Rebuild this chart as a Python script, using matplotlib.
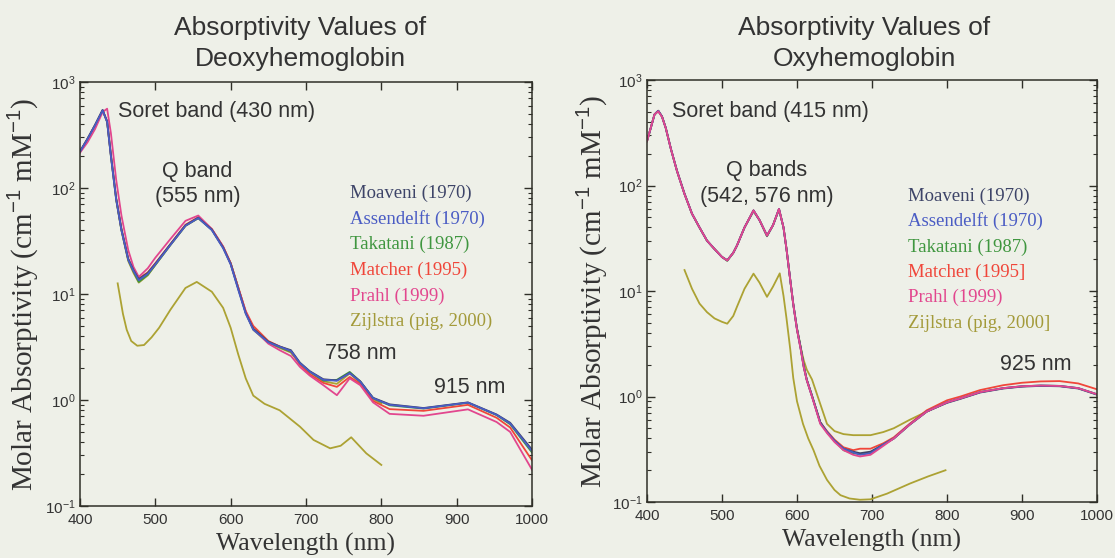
import matplotlib
matplotlib.use("Agg")
import matplotlib.pyplot as plt
from matplotlib.ticker import LogLocator, NullFormatter, MultipleLocator

# ---- deoxyhemoglobin (molar absorptivity, cm^-1 mM^-1) ----
deoxy_wl = [400, 410, 420, 430, 436, 441, 448, 455, 464, 471, 478, 490, 500, 520, 540,
            557, 575, 590, 600, 610, 620, 630, 650, 665, 680, 692, 705, 723, 741, 758,
            772, 789, 811, 856, 915, 953, 971, 1000]
deoxy_moaveni = [222, 292, 395, 545, 425, 205, 80, 41, 21.5, 16.8, 13.8, 15.8, 19.3, 29.5, 44.5,
                 52.5, 40.5, 27.5, 19.2, 11.2, 6.6, 4.7, 3.55, 3.2, 2.95, 2.25, 1.87, 1.57, 1.53, 1.8,
                 1.5, 1.05, 0.91, 0.84, 0.95, 0.73, 0.61, 0.34]
deoxy_assendelft = [220, 290, 390, 540, 420, 200, 78, 40, 21, 16.5, 13.5, 15.5, 19, 29, 44,
                    52, 40, 27, 19, 11, 6.5, 4.6, 3.5, 3.18, 2.9, 2.22, 1.85, 1.55, 1.52, 1.79,
                    1.49, 1.04, 0.90, 0.835, 0.945, 0.725, 0.60, 0.33]
deoxy_takatani = [220, 290, 390, 540, 420, 200, 78, 40, 21, 16.3, 13.0, 15.2, 18.8, 29, 44,
                  52, 40.5, 27.5, 19.5, 11.5, 6.7, 4.7, 3.5, 3.15, 2.85, 2.2, 1.85, 1.52, 1.55, 1.84,
                  1.5, 1.04, 0.89, 0.83, 0.94, 0.72, 0.59, 0.32]
deoxy_matcher = [220, 290, 390, 540, 425, 205, 80, 41, 21.5, 16.8, 14, 16, 19.5, 29.5, 45,
                 53, 41, 28, 19.5, 11.5, 6.9, 5.0, 3.6, 3.2, 2.9, 2.15, 1.75, 1.45, 1.33, 1.65,
                 1.42, 0.98, 0.82, 0.79, 0.90, 0.68, 0.55, 0.27]
deoxy_prahl = [215, 270, 360, 520, 560, 330, 120, 55, 26, 18, 14.5, 17.5, 22, 33, 49,
               55, 41, 28, 19.5, 11.5, 6.8, 4.7, 3.4, 2.95, 2.6, 2.05, 1.7, 1.38, 1.11, 1.6,
               1.38, 0.95, 0.74, 0.71, 0.816, 0.62, 0.50, 0.22]
deoxy_zijlstra_wl = [448, 455, 464, 471, 478, 490, 500, 520, 540, 557, 575, 590, 600, 610, 620,
                     630, 650, 665, 680, 692, 705, 723, 741, 758, 772, 789, 800]
deoxy_zijlstra = [78, 40, 20.5, 15.8, 12.8, 15, 18.8, 29, 44, 52, 40.5, 27.5, 19.5, 11.5, 6.7,
                  4.6, 3.45, 3.1, 2.8, 2.2, 1.83, 1.5, 1.42, 1.78, 1.45, 1.02, 0.93]
deoxy_pig_wl = [450, 453, 457, 462, 468, 476, 485, 495, 505, 520, 540, 555, 575, 590, 600,
                610, 620, 630, 645, 665, 692, 710, 732, 746, 760, 780, 800]
deoxy_pig = [12.6, 9.5, 6.5, 4.6, 3.6, 3.25, 3.3, 3.9, 4.8, 7.1, 11.4, 13, 10.5, 7.4, 4.8,
             2.7, 1.6, 1.1, 0.92, 0.8, 0.56, 0.42, 0.35, 0.37, 0.445, 0.314, 0.244]

# ---- oxyhemoglobin ----
oxy_wl = [400, 405, 410, 415, 420, 425, 432, 440, 450, 460, 470, 480, 490, 500, 507, 515,
          520, 530, 542, 550, 560, 568, 576, 582, 586, 591, 595, 600, 605, 609, 613, 620,
          631, 640, 650, 662, 675, 684, 698, 715, 729, 750, 773, 800, 818, 844, 875, 900,
          925, 950, 975, 1000]
oxy_moaveni = [265, 352, 472, 512, 452, 352, 221, 138, 84, 54, 40, 30, 25, 21, 19.6, 23,
               27, 40, 58, 47, 33.5, 42, 60, 40, 25, 12.8, 7.6, 4.4, 2.9, 1.95, 1.45, 1.02,
               0.57, 0.46, 0.38, 0.32, 0.3, 0.29, 0.3, 0.35, 0.40, 0.54, 0.72, 0.87, 0.95, 1.09, 1.19, 1.24,
               1.26, 1.25, 1.19, 1.04]
oxy_assendelft = [263, 350, 470, 510, 450, 351, 220, 137, 83, 54, 40, 30, 25, 21, 19.5, 23,
                  27, 40, 58, 47, 33.5, 42, 60, 40, 25, 12.7, 7.5, 4.3, 2.8, 1.9, 1.43, 1.0,
                  0.56, 0.46, 0.38, 0.32, 0.295, 0.28, 0.29, 0.35, 0.40, 0.54, 0.72, 0.88, 0.96, 1.1, 1.2, 1.25,
                  1.27, 1.26, 1.2, 1.05]
oxy_takatani = [263, 350, 470, 510, 450, 351, 220, 137, 83, 54, 40, 30, 25, 21, 19.3, 23,
                27, 40, 57, 47, 33, 42, 59, 40, 25, 12.7, 7.5, 4.4, 2.9, 1.95, 1.45, 1.02,
                0.57, 0.46, 0.38, 0.31, 0.29, 0.285, 0.29, 0.35, 0.40, 0.54, 0.72, 0.88, 0.96, 1.1, 1.2, 1.25,
                1.27, 1.26, 1.2, 1.05]
oxy_matcher = [263, 350, 470, 510, 450, 351, 220, 137, 83, 54, 40, 30, 25, 21, 19.5, 23,
               27, 40, 58, 47, 33.5, 42, 60, 40, 25, 12.7, 7.5, 4.3, 2.8, 1.9, 1.43, 1.0,
               0.57, 0.47, 0.39, 0.33, 0.31, 0.32, 0.32, 0.36, 0.41, 0.55, 0.74, 0.92, 1.0, 1.15, 1.28, 1.35,
               1.39, 1.40, 1.33, 1.17]
oxy_prahl = [263, 352, 472, 505, 448, 350, 220, 137, 83, 54, 40, 30, 25, 21, 19.5, 23,
             27, 40, 58, 47, 33.5, 42, 60, 40, 25, 12.7, 7.5, 4.3, 2.8, 1.9, 1.43, 1.0,
             0.55, 0.45, 0.37, 0.31, 0.28, 0.27, 0.28, 0.34, 0.40, 0.54, 0.72, 0.88, 0.96, 1.1, 1.2, 1.25,
             1.27, 1.26, 1.2, 1.05]
oxy_zijlstra_wl = [600, 605, 609, 613, 620, 631, 640, 650, 662, 675, 684, 698, 715, 729, 750,
                   773, 800]
oxy_zijlstra = [4.4, 2.9, 2.2, 1.8, 1.45, 0.85, 0.55, 0.47, 0.44, 0.43, 0.43, 0.43, 0.46, 0.5, 0.6,
                0.72, 0.88]
oxy_pig_wl = [450, 460, 470, 480, 490, 500, 507, 515, 520, 530, 542, 550, 560, 568, 577, 582,
              586, 591, 595, 600, 608, 615, 622, 630, 640, 650, 658, 670, 684, 698, 720, 751, 775, 798]
oxy_pig = [15.8, 10.5, 7.6, 6.3, 5.5, 5.1, 4.9, 5.8, 7.1, 10.5, 14.6, 12, 8.8, 11, 14.7, 9,
           5.5, 2.8, 1.5, 0.9, 0.55, 0.4, 0.31, 0.22, 0.162, 0.13, 0.116, 0.108, 0.105, 0.106,
           0.12, 0.15, 0.175, 0.20]

legend_labels = ["Moaveni (1970)", "Assendelft (1970)", "Takatani (1987)",
                 "Matcher (1995)", "Prahl (1999)", "Zijlstra (pig, 2000)"]
legend_labels_oxy = ["Moaveni (1970)", "Assendelft (1970)", "Takatani (1987)",
                     "Matcher (1995]", "Prahl (1999)", "Zijlstra (pig, 2000]"]

paper = "#eef0e8"
ink = "#333333"
c_moaveni = "#3d4468"
c_assendelft = "#4a5cc4"
c_takatani = "#3f963f"
c_matcher = "#f0463a"
c_prahl = "#e2468e"
c_zijlstra = "#aca233"
text_colors = [c_moaveni, c_assendelft, c_takatani, c_matcher, c_prahl, "#a39a3a"]

plt.rcParams["font.family"] = ["Liberation Sans", "DejaVu Sans"]
plt.rcParams["mathtext.fontset"] = "custom"
plt.rcParams["mathtext.rm"] = "Liberation Sans"
plt.rcParams["mathtext.it"] = "Liberation Sans:italic"

fig = plt.figure(figsize=(11.15, 5.58), dpi=100, facecolor=paper)
ax1 = fig.add_axes([80 / 1115, 1 - 506 / 558, 452 / 1115, 424 / 558])
ax2 = fig.add_axes([647 / 1115, 1 - 502 / 558, 450 / 1115, 422 / 558])


def style_axes(ax, pad):
    ax.set_facecolor(paper)
    ax.set_yscale("log")
    ax.set_xlim(400, 1000)
    ax.set_ylim(0.1, 1000)
    ax.xaxis.set_major_locator(MultipleLocator(100))
    ax.yaxis.set_major_locator(LogLocator(base=10, numticks=10))
    ax.yaxis.set_minor_locator(LogLocator(base=10, subs=range(2, 10), numticks=20))
    ax.yaxis.set_minor_formatter(NullFormatter())
    ax.tick_params(which="both", direction="in", top=True, right=True,
                   color="#2f2f28", labelcolor=ink, labelsize=11)
    ax.tick_params(which="major", length=6, width=1.0, pad=5)
    ax.tick_params(which="minor", length=3, width=0.8)
    ax.tick_params(axis="y", pad=3)
    for s in ax.spines.values():
        s.set_color("#2f2f28")
        s.set_linewidth(1.1)
    ax.set_xlabel("Wavelength (nm)", family="Liberation Serif", fontsize=18.5,
                  color=ink, labelpad=4)
    ax.set_ylabel("Molar Absorptivity (cm$^{-1}$ mM$^{-1}$)", family="Liberation Serif",
                  fontsize=21, color=ink, labelpad=pad)


lw = 1.3

# deoxy panel
ax1.plot(deoxy_pig_wl, deoxy_pig, color=c_zijlstra, lw=lw)
ax1.plot(deoxy_zijlstra_wl, deoxy_zijlstra, color=c_zijlstra, lw=lw)
ax1.plot(deoxy_wl, deoxy_takatani, color=c_takatani, lw=lw)
ax1.plot(deoxy_wl, deoxy_matcher, color=c_matcher, lw=lw)
ax1.plot(deoxy_wl, deoxy_prahl, color=c_prahl, lw=lw)
ax1.plot(deoxy_wl, deoxy_moaveni, color=c_moaveni, lw=lw)
ax1.plot(deoxy_wl, deoxy_assendelft, color=c_assendelft, lw=lw)
style_axes(ax1, 4)

# oxy panel
ax2.plot(oxy_pig_wl, oxy_pig, color=c_zijlstra, lw=lw)
ax2.plot(oxy_zijlstra_wl, oxy_zijlstra, color=c_zijlstra, lw=lw)
ax2.plot(oxy_wl, oxy_takatani, color=c_takatani, lw=lw)
ax2.plot(oxy_wl, oxy_matcher, color=c_matcher, lw=lw)
ax2.plot(oxy_wl, oxy_moaveni, color=c_moaveni, lw=lw)
ax2.plot(oxy_wl, oxy_assendelft, color=c_assendelft, lw=lw)
ax2.plot(oxy_wl, oxy_prahl, color=c_prahl, lw=lw)
style_axes(ax2, 2)

# annotations
fs = 15.5
ax1.text(0.083, 0.93, "Soret band (430 nm)", fontsize=fs, color=ink,
         transform=ax1.transAxes, va="center", ha="left")
ax1.text(0.26, 0.790, "Q band", fontsize=fs, color=ink, transform=ax1.transAxes,
         va="center", ha="center")
ax1.text(0.26, 0.729, "(555 nm)", fontsize=fs, color=ink, transform=ax1.transAxes,
         va="center", ha="center")
ax1.text(0.622, 0.36, "758 nm", fontsize=fs, color=ink, transform=ax1.transAxes,
         va="center", ha="center")
ax1.text(0.862, 0.28, "915 nm", fontsize=fs, color=ink, transform=ax1.transAxes,
         va="center", ha="center")

ax2.text(0.056, 0.925, "Soret band (415 nm)", fontsize=fs, color=ink,
         transform=ax2.transAxes, va="center", ha="left")
ax2.text(0.266, 0.786, "Q bands", fontsize=fs, color=ink, transform=ax2.transAxes,
         va="center", ha="center")
ax2.text(0.266, 0.725, "(542, 576 nm)", fontsize=fs, color=ink, transform=ax2.transAxes,
         va="center", ha="center")
ax2.text(0.864, 0.325, "925 nm", fontsize=fs, color=ink, transform=ax2.transAxes,
         va="center", ha="center")

# coloured text legends
for i, lab in enumerate(legend_labels):
    ax1.text(0.597, 0.737 - i * 0.0605, lab, family="Liberation Serif", fontsize=13.5,
             color=text_colors[i], transform=ax1.transAxes, va="center", ha="left")
for i, lab in enumerate(legend_labels_oxy):
    ax2.text(0.581, 0.725 - i * 0.0602, lab, family="Liberation Serif", fontsize=13.5,
             color=text_colors[i], transform=ax2.transAxes, va="center", ha="left")

# titles
fig.text(300 / 1115, 1 - 35.5 / 558, "Absorptivity Values of", ha="center", va="baseline",
         fontsize=19, color=ink)
fig.text(300 / 1115, 1 - 66 / 558, "Deoxyhemoglobin", ha="center", va="baseline",
         fontsize=19, color=ink)
fig.text(864 / 1115, 1 - 35.5 / 558, "Absorptivity Values of", ha="center", va="baseline",
         fontsize=19, color=ink)
fig.text(864 / 1115, 1 - 66 / 558, "Oxyhemoglobin", ha="center", va="baseline",
         fontsize=19, color=ink)

fig.savefig("out.png", dpi=100, facecolor=paper)
